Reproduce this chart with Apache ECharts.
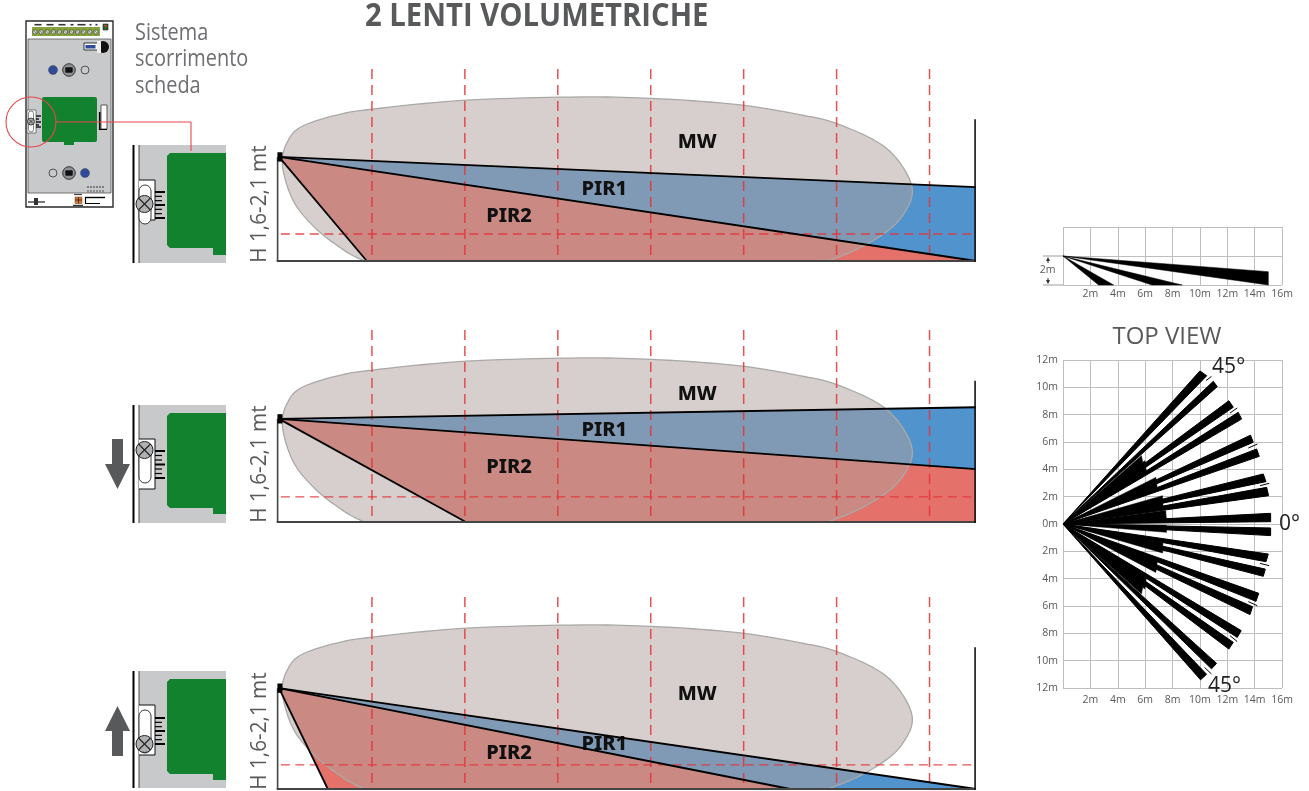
<!DOCTYPE html>
<html><head><meta charset="utf-8">
<style>html,body{margin:0;padding:0;background:#fff}#c{width:1309px;height:791px}</style>
<script src="https://cdn.jsdelivr.net/npm/echarts@6/dist/echarts.min.js"></script>
</head><body><div id="c"></div>
<script>
// ---------- data (metres) ----------
const roomLength = 15;
const dashMetres = [2,4,6,8,10,12,14];
const mwOutline = [[0.07,2.1],[0.2,2.6],[0.5,2.9],[1.24,3.14],[2.02,3.27],[4.02,3.46],[6.5,3.53],[8.2,3.49],[9.92,3.36],[11.2,3.15],[12.02,2.95],[13.08,2.42],[13.62,1.6],[13.4,0.95],[12.85,0.48],[12.0,0.07],[11,-0.2],[9,-0.4],[6,-0.45],[3,-0.3],[1.85,0],[1.2,0.37],[0.67,0.82],[0.28,1.35]];
const panelA = {sensor:2.24, wall:3.05, hDash:0.58,
  blue:[[0,2.24],[15,1.59],[15,0]], red:[[0,2.24],[15,0],[1.89,0]],
  lines:[[[0,2.24],[15,1.59]],[[0,2.24],[15,0]],[[0,2.24],[1.89,0]]],
  labels:[['MW',9.0,2.56],['PIR1',7.0,1.55],['PIR2',4.95,0.97]]};
const panelB = {sensor:2.22, wall:3.04, hDash:0.54,
  blue:[[0,2.22],[15,2.47],[15,1.14]], red:[[0,2.22],[15,1.14],[15,0],[4.02,0]],
  lines:[[[0,2.22],[15,2.47]],[[0,2.22],[15,1.14]],[[0,2.22],[4.02,0]]],
  labels:[['MW',9.0,2.75],['PIR1',7.0,1.98],['PIR2',4.95,1.18]]};
const panelC = {sensor:2.17, wall:3.05, hDash:0.52,
  blue:[[0,2.17],[15,0],[11,0]], red:[[0,2.17],[11,0],[1.05,0]],
  lines:[[[0,2.17],[15,0]],[[0,2.17],[11,0]],[[0,2.17],[1.05,0]]],
  labels:[['MW',9.0,2.04],['PIR1',7.0,0.97],['PIR2',4.95,0.77]]};
const panelFloors = [261,522,789];

const sideBeams = [[[0,2],[15,0.92],[15,0]],[[0,2],[8.7,0],[6.5,0]],[[0,2],[3.7,0],[2.6,0]]];
const topLong = [
 [10,11.2,10.5,10.85],[10.98,10.44,11.27,10.05],[12.12,9.02,12.44,8.54],[12.8,8.17,13.05,7.68],
 [13.7,6.5,13.9,5.98],[14.15,5.49,14.34,4.95],[14.63,3.66,14.83,3.1],[14.88,2.68,15.02,2.07],
 [15.17,0.78,15.17,0.17],[15.17,-0.29,15.17,-0.85],[15,-2.2,14.83,-2.76],[14.78,-3.3,14.63,-3.83],
 [14.3,-5.07,14.1,-5.66],[13.85,-6.05,13.66,-6.63],[13.02,-7.8,12.73,-8.3],[12.44,-8.66,12.12,-9.15],
 [11.22,-10.2,10.85,-10.6],[10.49,-11.0,10.05,-11.4]];
const topShort = [
 [7.56,0.3,7.5,0.98],[7.3,1.3,7.27,2.07],[6.9,2.55,6.78,3.41],[6.1,3.75,5.98,4.63],[5.85,4.4,5.73,5.0],
 [7.56,-0.1,7.56,-0.61],[7.3,-1.35,7.27,-2.12],[6.9,-2.65,6.78,-3.54],[6.1,-3.85,5.98,-4.76],[5.85,-4.5,5.73,-5.12]];
const topTicks = [
 [10.44,10.49,10.85,10.8],[12.2,8.12,12.73,8.49],[13.54,5.56,14.2,5.85],[14.39,2.8,15.07,2.98],
 [14.39,-2.88,15.07,-3.05],[13.54,-5.68,14.2,-5.98],[12.2,-8.17,12.73,-8.6],[10.34,-10.49,10.85,-10.98]];
const topAngles = [['45°',12.1,11.5],['0°',16.55,0],['45°',11.8,-11.85]];

const title = '2 LENTI VOLUMETRICHE';
const caption = ['Sistema','scorrimento','scheda'];
const heightLabel = 'H 1,6-2,1 mt';

// ---------- helpers ----------
const DARK='#58595b', RED='#e63a3f', BLUE='#5093cd', SALMON='#e4726b';
function closedCurve(p){ // renders a smooth outline through the read points
  const out=[],n=p.length;
  for(let i=0;i<n;i++){
    const a=p[(i-1+n)%n],b=p[i],c=p[(i+1)%n],d=p[(i+2)%n];
    for(let k=0;k<10;k++){const t=k/10,t2=t*t,t3=t2*t;
      out.push([0,1].map(j=>0.5*(2*b[j]+(c[j]-a[j])*t+(2*a[j]-5*b[j]+4*c[j]-d[j])*t2+(3*b[j]-a[j]-3*c[j]+d[j])*t3)));}
  }
  return out;
}
function poly(gi,pts,fill,opt={}){
  return {type:'custom',xAxisIndex:gi,yAxisIndex:gi,coordinateSystem:'cartesian2d',clip:!!opt.clip,silent:true,z:opt.z||2,
    data:pts,
    renderItem:(p,api)=>{ if(p.dataIndex!==0) return null;
      const px=pts.map(q=>api.coord(q));
      return {type:'polygon',shape:{points:opt.curve?closedCurve(px):px},
      style:{fill:fill,stroke:opt.stroke||null,lineWidth:opt.lw||0,lineJoin:'round'}};}};
}
function segs(gi,list,stroke,lw,dash,z,cap){
  return {type:'custom',xAxisIndex:gi,yAxisIndex:gi,coordinateSystem:'cartesian2d',silent:true,z:z||4,
    data:list.map(s=>[s[0][0],s[0][1],s[1][0],s[1][1]]),encode:{x:[0,2],y:[1,3]},
    renderItem:(p,api)=>{const a=api.coord([api.value(0),api.value(1)]),b=api.coord([api.value(2),api.value(3)]);
      return {type:'line',shape:{x1:a[0],y1:a[1],x2:b[0],y2:b[1]},style:{stroke:stroke,lineWidth:lw,lineDash:dash||null,lineCap:cap||'butt',fill:null}};}};
}
function labels(gi,list,font,color,z){
  return {type:'custom',xAxisIndex:gi,yAxisIndex:gi,coordinateSystem:'cartesian2d',silent:true,z:z||6,
    data:list.map(l=>[l[1],l[2]]),
    renderItem:(p,api)=>{const c=api.coord([api.value(0),api.value(1)]);
      return {type:'text',style:{text:list[p.dataIndex][0],x:c[0],y:c[1],align:'center',verticalAlign:'middle',font:font,fill:color}};}};
}
const pxPerM=697/roomLength, yMax=192/pxPerM;
const grids=[], xAxes=[], yAxes=[], series=[];
[panelA,panelB,panelC].forEach((P,i)=>{
  grids.push({left:279,width:697,top:panelFloors[i]-192,height:192});
  xAxes.push({type:'value',gridIndex:i,min:0,max:roomLength,show:false});
  yAxes.push({type:'value',gridIndex:i,min:0,max:yMax,show:false});
  series.push(poly(i,P.blue,BLUE));
  series.push(poly(i,P.red,SALMON));
  series.push(poly(i,mwOutline,'rgba(175,159,155,0.5)',{clip:true,curve:true,stroke:'#aaa9a8',lw:1.3,z:3}));
  series.push(segs(i,dashMetres.map(m=>[[m,yMax],[m,0]]),'rgba(228,50,55,0.85)',1.5,[10,6],5));
  series.push(segs(i,[[[0.04,P.hDash],[roomLength,P.hDash]]],'rgba(228,50,55,0.85)',1.4,[9,5.5],5));
  series.push(segs(i,P.lines,'#000',1.8,null,7));
  series.push(segs(i,[[[-0.03,0],[-0.03,P.sensor]]],'#444',1.6,null,7));
  series.push(segs(i,[[[-0.05,0],[roomLength,0]]],'#444',2,null,7));
  series.push(segs(i,[[[roomLength-0.02,-0.02],[roomLength-0.02,P.wall]]],'#111',1.6,null,7));
  series.push(segs(i,[[[0.02,P.sensor-0.1],[0.02,P.sensor+0.1]]],'#000',5,null,8));
  series.push(labels(i,P.labels,'800 20px "Noto Sans"','#111'));
});
// side view
grids.push({left:1063,width:219,top:227,height:58});
xAxes.push({type:'value',gridIndex:3,min:0,max:16,interval:2,
  axisLine:{show:false},axisTick:{show:false},splitLine:{show:true,lineStyle:{color:'#bcbec0',width:1}},
  axisLabel:{fontFamily:'"Open Sans"',fontSize:10.5,color:DARK,margin:4,showMinLabel:false,formatter:v=>v+'m'}});
yAxes.push({type:'value',gridIndex:3,min:0,max:4,interval:2,axisLine:{show:false},axisTick:{show:false},axisLabel:{show:false},
  splitLine:{show:true,lineStyle:{color:'#bcbec0',width:1}}});
sideBeams.forEach(b=>series.push(poly(3,b,'#000',{stroke:'#000',lw:0.5})));
// top view
grids.push({left:1063,width:219,top:360,height:328});
xAxes.push({type:'value',gridIndex:4,min:0,max:16,interval:2,
  axisLine:{show:false},axisTick:{show:false},splitLine:{show:true,lineStyle:{color:'#bcbec0',width:1}},
  axisLabel:{fontFamily:'"Open Sans"',fontSize:10.5,color:DARK,margin:7,showMinLabel:false,formatter:v=>v+'m'}});
yAxes.push({type:'value',gridIndex:4,min:-12,max:12,interval:2,axisLine:{show:false},axisTick:{show:false},
  axisLabel:{fontFamily:'"Open Sans"',fontSize:10.5,color:DARK,margin:5,formatter:v=>Math.abs(v)+'m'},
  splitLine:{show:true,lineStyle:{color:'#bcbec0',width:1}}});
topLong.forEach(b=>series.push(poly(4,[[0,0],[b[0],b[1]],[b[2],b[3]]],'#000',{stroke:'#000',lw:1})));
topShort.forEach(b=>series.push(poly(4,[[0,0],[b[0],b[1]],[b[2],b[3]]],'#000',{stroke:'#000',lw:0.5})));
series.push(segs(4,topTicks.map(t=>[[t[0],t[1]],[t[2],t[3]]]),'#000',1,null,5));
series.push(labels(4,topAngles,'400 21px "Open Sans"','#222'));

// ---------- illustration ----------
const g=[];
const R=(x,y,w,h,fill,o={})=>g.push({type:'rect',shape:{x,y,width:w,height:h,r:o.r||0},style:{fill,stroke:o.s||null,lineWidth:o.lw||0},z:o.z||1});
const C=(cx,cy,r,fill,o={})=>g.push({type:'circle',shape:{cx,cy,r},style:{fill,stroke:o.s||null,lineWidth:o.lw||0},z:o.z||1});
const L=(x1,y1,x2,y2,s,lw,o={})=>g.push({type:'line',shape:{x1,y1,x2,y2},style:{stroke:s,lineWidth:lw},z:o.z||1});
const T=(text,x,y,font,fill,o={})=>g.push({type:'text',x,y,rotation:o.rot||0,scaleX:o.sx||1,scaleY:o.sy||1,
  style:{text,font,fill,align:o.align||'left',verticalAlign:'middle'},z:2});
// heading and captions
T(title,365,17,'700 32.5px "Open Sans"','#58595b',{sx:0.9});
caption.forEach((t,i)=>T(t,135,[33,59,86][i],'400 24px "Open Sans"','#6d6e71',{sx:0.83}));
T('TOP VIEW',1167,337,'400 24px "Open Sans"','#58595b',{align:'center',sx:1.0});
[204,464,731].forEach(cy=>T(heightLabel,260,cy,'400 22.5px "Open Sans"','#58595b',{align:'center',rot:Math.PI/2,sx:0.92}));
// 2m bracket
L(1043,256,1063,256,'#9a9b9d',1); L(1043,285,1063,285,'#9a9b9d',1);
L(1048,259,1048,263,'#333',1); L(1048,278,1048,283,'#333',1);
g.push({type:'polygon',shape:{points:[[1048,257],[1046,261],[1050,261]]},style:{fill:'#333'}});
g.push({type:'polygon',shape:{points:[[1048,284],[1046,280],[1050,280]]},style:{fill:'#333'}});
T('2m',1047.5,270.5,'400 10.5px "Open Sans"',DARK,{align:'center'});

// device drawing
const GREEN='#12822f', GRAY='#c8c9cb';
R(26,21,87,186,'#fff',{s:'#2a2a2a',lw:1.4});
R(28,39,83,154,GRAY,{s:'#555',lw:0.8});
R(32,27,68,9,'#86a23a');
[[33,10],[45,10],[57,10],[69,6],[76,11],[88,5],[94,5]].forEach(b=>{R(b[0],22.5,b[1],4.5,'#fff');L(b[0]+1.5,24.7,b[0]+b[1]-1.5,24.7,'#333',1.6);});
for(let i=0;i<11;i++){const x=35+i*6.1;C(x,32,2.2,'#d7d9c9',{s:'#333',lw:0.6});L(x-1.3,30.7,x+1.3,33.3,'#333',0.5);}
R(103,24,5,6,'#22682f',{s:'#222',lw:0.6});R(104,25,3,1.5,'#d33');
R(84,43,14,7,'#fff',{s:'#222',lw:0.9});R(85.5,45,10,3.5,'#2f4b9b');
C(103,47,6,'#111');g.push({type:'rect',shape:{x:97,y:41,width:4,height:12},style:{fill:'#eee'},z:1});
const ctrl=(cx,cy)=>{C(cx,cy,6.3,'#8f9092',{s:'#333',lw:1});R(cx-3.7,cy-2.8,7.4,5.6,'#111',{r:1});};
C(53,70,4.5,'#2f4b9b',{s:'#444',lw:0.5});ctrl(69,70);C(85,70,4,GRAY,{s:'#333',lw:0.8});
C(53,173,4,GRAY,{s:'#333',lw:0.8});ctrl(69,173);C(85,173,4.5,'#2f4b9b',{s:'#444',lw:0.5});
R(42,97,55,45,GREEN,{r:2});R(64,141,10,4,GREEN);
R(101,105,6,24,'#fff',{s:'#333',lw:0.8});L(99.7,112,99.7,130,'#000',1.6);L(99,129.5,107,129.5,'#000',1);
R(27,110,9,23,'#fff',{s:'#333',lw:0.6});
g.push({type:'rect',shape:{x:28.5,y:111,width:5,height:21,r:2.5},style:{fill:'#fff',stroke:'#333',lineWidth:0.6},z:1});
C(31,121.5,3.5,'#aaa',{s:'#222',lw:0.8});L(29,119.5,33,123.5,'#222',0.7);L(33,119.5,29,123.5,'#222',0.7);
[116,119,122,125,127].forEach((y,i)=>L(36,y,i%2?39:41,y,'#000',1.3));
C(31,122,25,'rgba(0,0,0,0)',{s:'#e5484d',lw:1.1,z:3});
L(56,122,191,122,'#e5484d',1.1,{z:3});L(191,122,191,151,'#e5484d',1.1,{z:3});
// bottom details
L(28,202,45,202,'#222',1.2);R(34,198,4,7,'#333');
R(75,197,7,6.5,'#e5761f',{s:'#333',lw:0.4});L(78.5,197,78.5,203.5,'#222',0.8);L(75,200,82,200,'#222',0.8);
L(74,194.5,82,194.5,'#444',1.2);L(73,205.5,83,205.5,'#333',1.4);
L(85,197.5,105,197.5,'#000',1.4);L(85.5,197,85.5,204,'#000',1.2);L(85,203.5,100,203.5,'#000',1);
for(let i=0;i<6;i++){L(88+i*3,186,88+i*3,188,'#333',1);L(88+i*3,190,88+i*3,192.5,'#444',0.9);}

// slider panels
function slider(top,bot,gTop,gBot,nBot,bTop,bBot,oTop,oBot,kY,tTop,tBot){
  R(139,top,87,bot-top,GRAY);
  L(133.5,top,133.5,bot,'#000',2);
  L(139,top,139,bot,'#444',1);
  g.push({type:'polygon',shape:{points:[[170,gTop],[226,gTop],[226,nBot],[213,nBot],[213,gBot],[170,gBot],[167,gBot-3],[167,gTop+3]]},style:{fill:GREEN},z:1});
  R(139,bTop,16,bBot-bTop,'#fff');
  L(139,bTop,155,bTop,'#111',1);L(155,bTop,155,bBot,'#111',1);L(155,bBot,139,bBot,'#111',1);
  g.push({type:'rect',shape:{x:139,y:oTop,width:12,height:oBot-oTop,r:6},style:{fill:'#fff',stroke:'#222',lineWidth:0.9},z:1});
  C(144.5,kY,8.5,'#b0b1b3',{s:'#222',lw:1});
  L(138.5,kY-6,150.5,kY+6,'#222',1.1);L(150.5,kY-6,138.5,kY+6,'#222',1.1);
  const n=7;for(let i=0;i<n;i++){const y=tTop+(tBot-tTop)*i/(n-1);const big=i%3===0;L(155,y,big?165:162,y,'#000',big?2:1.2);}
}
slider(145,263,153,248,255,180,220,185,224,204,192,218);
slider(405,523,413,508,514,439,489,447,483,450,451,478);
slider(671,788,679,774,780,705,755,710,753,744,718,744);
// arrows
g.push({type:'polygon',shape:{points:[[112,439],[123,439],[123,464],[130,464],[117.5,489],[105,464],[112,464]]},style:{fill:DARK}});
g.push({type:'polygon',shape:{points:[[112,756],[123,756],[123,731],[130,731],[117.5,706],[105,731],[112,731]]},style:{fill:DARK}});

const chart=echarts.init(document.getElementById('c'),null,{renderer:'canvas'});
chart.setOption({animation:false,backgroundColor:'#fff',grid:grids,xAxis:xAxes,yAxis:yAxes,series:series,graphic:{elements:g}});
</script></body></html>
